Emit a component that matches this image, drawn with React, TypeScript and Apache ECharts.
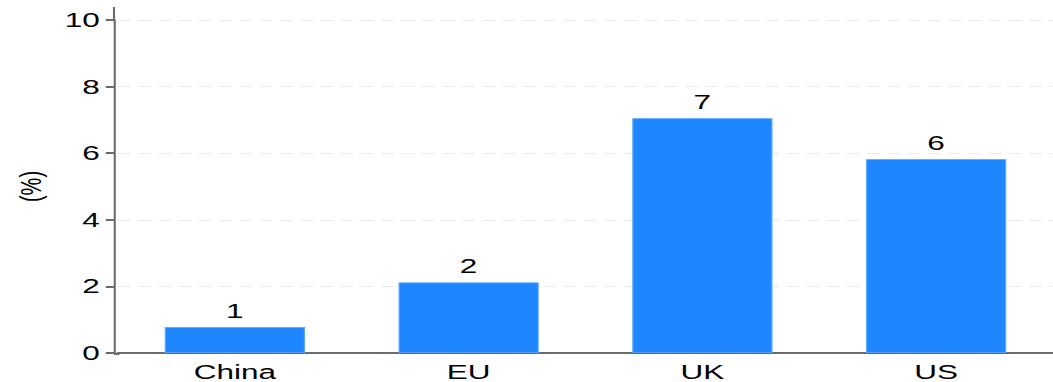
import React, { useEffect, useRef } from "react";
import * as echarts from "echarts";

const categories = ["China", "EU", "UK", "US"];
const values = [0.78, 2.12, 7.05, 5.82];
const yTicks = { min: 0, max: 10, interval: 2 };

// The reference is a horizontally stretched picture (1.5x); the chart is laid out
// at 702px wide and stretched to 1053px with a CSS transform.
const STRETCH = 1.5;
const W = 1053 / STRETCH;
const H = 382;

export default function App() {
  const ref = useRef<HTMLDivElement>(null);
  useEffect(() => {
    document.body.style.margin = "0";
    const chart = echarts.init(ref.current!, null, { renderer: "svg" });
    const font = "'Liberation Sans', Arial, sans-serif";
    const axisColor = "#6b6b6b";
    const gridLeft = 118 / STRETCH;
    const axisX = 114 / STRETCH;
    chart.setOption({
      animation: false,
      backgroundColor: "#ffffff",
      grid: { left: gridLeft, right: -5 / STRETCH, top: 20, bottom: 28, containLabel: false },
      xAxis: {
        type: "category",
        data: categories,
        axisLine: { show: true, lineStyle: { color: axisColor, width: 2 } },
        axisTick: { show: false },
        axisLabel: { color: "#000", fontSize: 21, fontFamily: font, margin: 8 },
      },
      yAxis: {
        type: "value",
        min: yTicks.min,
        max: yTicks.max,
        interval: yTicks.interval,
        offset: gridLeft - axisX,
        name: "(%)",
        nameLocation: "middle",
        nameGap: 46,
        nameRotate: 90,
        nameTextStyle: { color: "#000", fontSize: 20, fontFamily: font },
        axisLine: { show: true, lineStyle: { color: axisColor, width: 1.4 } },
        axisTick: { show: true, length: 5.5, lineStyle: { color: axisColor, width: 2 } },
        axisLabel: { color: "#000", fontSize: 21, fontFamily: font, margin: 9.5 },
        splitLine: { show: true, lineStyle: { color: "#ebebeb", type: [8.5, 5], width: 1 } },
      },
      graphic: [
        {
          type: "line",
          shape: { x1: axisX, y1: 7, x2: axisX, y2: 20 },
          style: { stroke: axisColor, lineWidth: 1.4 },
        },
        {
          type: "line",
          shape: { x1: axisX, y1: 354, x2: gridLeft + 1, y2: 354 },
          style: { stroke: axisColor, lineWidth: 2 },
        },
      ],
      series: [
        {
          type: "bar",
          data: values,
          barCategoryGap: "40%",
          itemStyle: { color: "#1e86ff", borderColor: "#5aa6ff", borderWidth: 0.8 },
          label: {
            show: true,
            position: "top",
            distance: 6,
            color: "#000",
            fontSize: 21,
            fontFamily: font,
            formatter: (p: any) => String(Math.round(p.value)),
          },
        },
      ],
    });
    return () => chart.dispose();
  }, []);
  return (
    <div style={{ width: 1053, height: H, overflow: "hidden" }}>
      <div
        ref={ref}
        style={{
          width: W,
          height: H,
          transform: `scaleX(${STRETCH})`,
          transformOrigin: "left top",
        }}
      />
    </div>
  );
}
